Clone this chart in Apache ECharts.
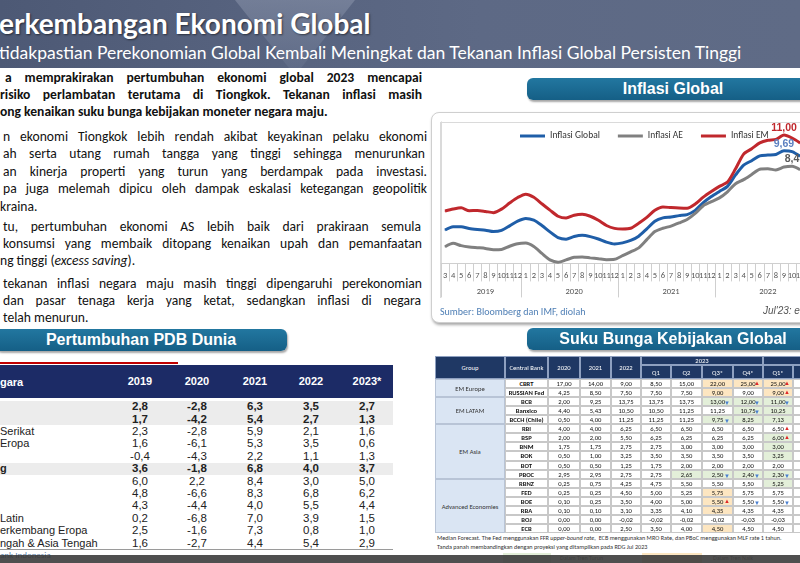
<!DOCTYPE html>
<html><head><meta charset="utf-8">
<script src="https://cdn.jsdelivr.net/npm/echarts@6/dist/echarts.min.js"></script>
<style>
html,body{margin:0;padding:0;width:800px;height:563px;overflow:hidden;background:#fff;}
.a{position:absolute;}
#hdr{left:0;top:0;width:800px;height:68px;background:linear-gradient(90deg,#4d5975 0%,#56627e 30%,#5d6985 60%,#5f6b86 100%);overflow:hidden;}
#hdrV{left:235px;top:0;width:120px;height:68px;background:linear-gradient(180deg,#8a94ab,#66728d);clip-path:polygon(0 0,100% 0,55% 100%,45% 100%);opacity:.55;}
#title{left:-1px;top:6px;font:bold 28px Lato,sans-serif;color:#fff;white-space:nowrap;text-shadow:1px 1px 2px rgba(0,0,0,.5);}
#sub{left:-1px;top:42px;font:17.5px Lato,sans-serif;color:#fff;white-space:nowrap;}
.ln{position:absolute;white-space:nowrap;font-family:Carlito,Lato,sans-serif;font-size:13.6px;color:#111;text-align:justify;text-align-last:justify;height:17px;line-height:17px;}
.ln.l{text-align:left;text-align-last:left;}
.b{font-weight:bold;}
.pill{position:absolute;height:22px;border-radius:6px;background:linear-gradient(180deg,#2277a0,#155f86);box-shadow:1px 2px 2px rgba(0,0,0,.35);color:#fff;font:bold 16px 'Liberation Sans',Arial,sans-serif;line-height:22px;text-align:center;white-space:nowrap;}
#card{left:431px;top:112px;width:400px;height:209px;border:1px solid #cfcfcf;border-radius:8px;box-shadow:1px 2px 3px rgba(0,0,0,.35);background:#fff;}
#frame{left:440px;top:122px;width:400px;height:175px;border-top:1px solid #dadada;border-left:1px solid #dadada;}
#chart{left:430px;top:110px;width:470px;height:200px;}
#src{left:440px;top:305px;font:10px Carlito,Lato,sans-serif;color:#4f7fb5;}
#jul{left:763px;top:305px;font:italic 10px 'Liberation Sans',sans-serif;color:#555;white-space:nowrap;}
.pc{position:absolute;font:11.5px 'Liberation Sans',Arial,sans-serif;color:#222;text-align:center;height:11px;line-height:11px;}
.rc{position:absolute;box-sizing:border-box;font:6.6px Carlito,Lato,sans-serif;color:#111;text-align:center;overflow:visible;white-space:nowrap;}
</style></head><body>
<div id="hdr" class="a"><div id="hdrV" class="a"></div>
<div id="title" class="a">erkembangan Ekonomi Global</div>
<div id="sub" class="a">tidakpastian Perekonomian Global Kembali Meningkat dan Tekanan Inflasi Global Persisten Tinggi</div>
</div>
<div id="txt"></div>
<div class="pill" style="left:527px;top:78px;width:292px;">Inflasi Global</div>
<div id="card" class="a"></div>
<div id="frame" class="a"></div>
<div id="chart" class="a"></div>
<div id="src" class="a">Sumber: Bloomberg dan IMF, diolah</div>
<div id="jul" class="a">Jul'23: e</div>
<div class="pill" style="left:-5px;top:329px;width:292px;">Pertumbuhan PDB Dunia</div>
<div class="pill" style="left:527px;top:328px;width:292px;">Suku Bunga Kebijakan Global</div>
<div id="pdb"></div>
<div id="rates"></div>
<div id="foot"></div>
<script>
// ---------- Inflasi Global chart data ----------
const monthLabels = ['3','4','5','6','7','8','9','10','11','12',
  '1','2','3','4','5','6','7','8','9','10','11','12',
  '1','2','3','4','5','6','7','8','9','10','11','12',
  '1','2','3','4','5','6','7','8','9','10','11','12'];
const yearLabels = ['2019','2020','2021','2022'];
const yearStartIdx = [0,10,22,34,46];
const yearLabelIdx = [5,16,28,40];
const inflasiGlobal = [3.08,3.36,3.35,3.21,3.13,3.07,2.95,3.05,3.43,3.83,4.05,3.90,3.46,2.93,2.45,2.32,2.54,2.64,2.53,2.33,2.07,1.92,2.01,2.21,2.57,3.18,3.81,4.09,4.16,4.28,4.37,4.72,5.36,5.87,6.30,6.72,7.67,8.49,8.86,9.26,9.33,9.38,9.69,9.62,9.22];
const inflasiAE = [1.69,1.97,1.78,1.67,1.61,1.55,1.44,1.46,1.73,1.94,1.99,1.70,1.13,0.59,0.40,0.59,0.81,0.83,0.76,0.69,0.61,0.64,0.94,1.26,1.59,2.28,2.95,3.23,3.41,3.67,3.96,4.46,5.11,5.44,5.76,6.27,6.94,7.28,7.71,8.15,8.18,8.09,8.33,8.40,8.11];
const inflasiEM = [4.67,4.83,4.93,4.69,4.71,4.63,4.53,4.82,5.33,5.79,6.07,5.81,5.27,4.74,4.23,4.08,4.31,4.39,4.23,3.89,3.46,3.22,3.17,3.23,3.65,4.14,4.72,5.00,4.95,4.91,4.89,5.25,5.82,6.29,6.72,7.08,8.18,9.41,9.85,10.34,10.56,10.63,11.00,10.75,10.34];
const peakLabels = [{series:0,idx:42,text:'9,69',color:'#5b7fc0'},{series:1,idx:43,text:'8,4',color:'#595959'},{series:2,idx:42,text:'11,00',color:'#c0282d'}];

// ---------- PDB table data ----------
const pdbYears = ['2019','2020','2021','2022','2023*'];
const pdbRows = ['','','Serikat','Eropa','','g','','','','Latin','erkembang Eropa','ngah & Asia Tengah'];
const pdbBold = [true,true,false,false,false,true,false,false,false,false,false,false];
const pdbVals = [
 ['2,8','-2,8','6,3','3,5','2,7'],['1,7','-4,2','5,4','2,7','1,3'],['2,3','-2,8','5,9','2,1','1,6'],
 ['1,6','-6,1','5,3','3,5','0,6'],['-0,4','-4,3','2,2','1,1','1,3'],['3,6','-1,8','6,8','4,0','3,7'],
 ['6,0','2,2','8,4','3,0','5,0'],['4,8','-6,6','8,3','6,8','6,2'],['4,3','-4,4','4,0','5,5','4,4'],
 ['0,2','-6,8','7,0','3,9','1,5'],['2,5','-1,6','7,3','0,8','1,0'],['1,6','-2,7','4,4','5,4','2,9']];

// ---------- Policy rate table data ----------
const rateGroups = [['EM Europe',2],['EM LATAM',3],['EM Asia',6],['Advanced Economies',6]];
const rateBanks = ['CBRT','RUSSIAN Fed','BCB','Banxico','BCCH (Chile)','RBI','BSP','BNM','BOK','BOT','PBOC','RBNZ','FED','BOE','RBA','BOJ','ECB'];
const rateCols = ['2020','2021','2022','Q1','Q2','Q3*','Q4*','Q1*'];
const rateVals = [
 ['17,00','14,00','9,00','8,50','15,00','22,00','25,00','25,00'],
 ['4,25','8,50','7,50','7,50','7,50','9,00','9,00','9,00'],
 ['2,00','9,25','13,75','13,75','13,75','13,00','12,00','11,00'],
 ['4,40','5,43','10,50','10,50','11,25','11,25','10,75','10,25'],
 ['0,50','4,00','11,25','11,25','11,25','9,75','8,25','7,13'],
 ['4,00','4,00','6,25','6,50','6,50','6,50','6,50','6,50'],
 ['2,00','2,00','5,50','6,25','6,25','6,25','6,25','6,00'],
 ['1,75','1,75','2,75','2,75','3,00','3,00','3,00','3,00'],
 ['0,50','1,00','3,25','3,50','3,50','3,50','3,50','3,25'],
 ['0,50','0,50','1,25','1,75','2,00','2,00','2,00','2,00'],
 ['2,95','2,95','2,75','2,75','2,65','2,50','2,40','2,30'],
 ['0,25','0,75','4,25','4,75','5,50','5,50','5,50','5,25'],
 ['0,25','0,25','4,50','5,00','5,25','5,75','5,75','5,75'],
 ['0,10','0,25','3,50','4,00','5,00','5,50','5,50','5,50'],
 ['0,10','0,10','3,10','3,35','4,10','4,35','4,35','4,35'],
 ['0,00','0,00','-0,02','-0,02','-0,02','-0,02','-0,03','-0,03'],
 ['0,00','0,00','2,50','3,50','4,00','4,50','4,50','4,50']];
// highlight codes: 'y' naik (yellow), 'g' turun (green); arrows 'u' up, 'd' down
const rateMarks = {
 '0,5':'y','0,6':'yu','0,7':'yu','1,5':'y','1,6':'','1,7':'yu',
 '2,5':'gd','2,6':'gd','2,7':'gd','3,6':'gd','3,7':'g','4,5':'gd','4,6':'g','4,7':'g',
 '5,7':'u','6,7':'gu','7,7':'g','8,7':'g','10,4':'g','10,5':'gd','10,6':'gd','10,7':'gd',
 '11,7':'g','12,5':'y','13,5':'yu','13,6':'d','13,7':'d','14,5':'y','16,5':'y'};

// ---------- left text ----------
const textLines = [
 [77,5,422,'a memprakirakan pertumbuhan ekonomi global 2023 mencapai',1,0],
 [94,0,422,'risiko perlambatan terutama di Tiongkok. Tekanan inflasi masih',1,0],
 [111,0,0,'ong kenaikan suku bunga kebijakan moneter negara maju.',1,1],
 [136,3,427,'n ekonomi Tiongkok lebih rendah akibat keyakinan pelaku ekonomi',0,0],
 [153,3,425,'ah serta utang rumah tangga yang tinggi sehingga menurunkan',0,0],
 [171,3,427,'an kinerja properti yang turun yang berdampak pada investasi.',0,0],
 [188,3,427,'pa juga melemah dipicu oleh dampak eskalasi ketegangan geopolitik',0,0],
 [206,0,0,'kraina.',0,1],
 [226,3,421,'tu, pertumbuhan ekonomi AS lebih baik dari prakiraan semula',0,0],
 [243,3,422,'konsumsi yang membaik ditopang kenaikan upah dan pemanfaatan',0,0],
 [260,0,0,'ng tinggi (<i>excess saving</i>).',0,1],
 [283,3,422,'tekanan inflasi negara maju masih tinggi dipengaruhi perekonomian',0,0],
 [300,3,421,'dan pasar tenaga kerja yang ketat, sedangkan inflasi di negara',0,0],
 [317,3,0,'telah menurun.',0,1]];
let th='';
textLines.forEach(l=>{
  th+=`<div class="ln${l[4]?' b':''}${l[5]?' l':''}" style="top:${l[0]-8.5}px;left:${l[1]}px;${l[2]?'width:'+(l[2]-l[1])+'px;':''}">${l[3]}</div>`;
});
document.getElementById('txt').innerHTML=th;

// ---------- PDB table ----------
let ph='';
ph+=`<div class="a" style="left:0;top:362px;width:178px;height:2px;background:#c00000"></div>`;
ph+=`<div class="a" style="left:0;top:365px;width:393px;height:33px;background:#1c2b66"></div>`;
ph+=`<div class="a" style="left:0;top:376px;font:bold 11px 'Liberation Sans',Arial;color:#fff">gara</div>`;
const pdbX=[140,197,255,311,367];
pdbYears.forEach((y,i)=>{ph+=`<div class="pc" style="left:${pdbX[i]-30}px;width:60px;top:376px;color:#fff;font-weight:bold;font-size:11px">${y}</div>`;});
pdbRows.forEach((r,ri)=>{
  const top=400.5+ri*12.4;
  if(pdbBold[ri]) ph+=`<div class="a" style="left:0;top:${top}px;width:393px;height:12.4px;background:#ececec"></div>`;
  const fw=pdbBold[ri]?'bold':'normal';
  ph+=`<div class="pc" style="left:0;top:${top+0.7}px;text-align:left;font-weight:${fw};font-size:11px">${r}</div>`;
  pdbVals[ri].forEach((v,ci)=>{ph+=`<div class="pc" style="left:${pdbX[ci]-30}px;width:60px;top:${top+0.7}px;font-weight:${fw}">${v}</div>`;});
});
ph+=`<div class="a" style="left:0;top:549px;width:393px;height:1px;background:#9a9a9a"></div>`;
document.getElementById('pdb').innerHTML=ph;

// ---------- Rates table ----------
const rx=[435,505,548,580,611,641,671,702,733,763,793,823];
const hdrTop=356,h1=9,h2=14,rowH=9.06;
const bodyTop=hdrTop+h1+h2;
let rh='';
const navy='#1f3864';
function cell(x0,x1,y0,h,bg,txt,extra){rh+=`<div class="rc" style="left:${x0}px;top:${y0}px;width:${x1-x0}px;height:${h}px;line-height:${h}px;background:${bg};${extra||''}">${txt}</div>`;}
cell(rx[0],rx[1],hdrTop,h1+h2,navy,'Group','color:#fff;border:0.5px solid #8ea0c0;');
cell(rx[1],rx[2],hdrTop,h1+h2,navy,'Central Bank','color:#fff;border:0.5px solid #8ea0c0;');
for(let c=0;c<3;c++) cell(rx[2+c],rx[3+c],hdrTop,h1+h2,navy,rateCols[c],'color:#fff;border:0.5px solid #8ea0c0;');
cell(rx[5],rx[9],hdrTop,h1,navy,'2023','color:#fff;border:0.5px solid #8ea0c0;');
cell(rx[9],rx[11],hdrTop,h1,navy,'','border:0.5px solid #8ea0c0;');
for(let c=3;c<8;c++) cell(rx[2+c],rx[3+c],hdrTop+h1,h2,navy,rateCols[c],'color:#fff;border:0.5px solid #8ea0c0;');
cell(rx[10],rx[11],hdrTop+h1,h2,navy,'','border:0.5px solid #8ea0c0;');
let gr=0;
rateGroups.forEach(g=>{cell(rx[0],rx[1],bodyTop+gr*rowH,g[1]*rowH,'#dae5f3',g[0],'border:0.5px solid #b8c4d6;color:#333;');gr+=g[1];});
rateBanks.forEach((b,ri)=>{
  const y=bodyTop+ri*rowH;
  cell(rx[1],rx[2],y,rowH,'#fff',b,'font-weight:bold;border:0.5px solid #c8c8c8;');
  rateVals[ri].forEach((v,ci)=>{
    const m=rateMarks[ri+','+ci]||'';
    const bg=m.includes('y')?'#fde6c1':(m.includes('g')?'#e3efd9':'#fff');
    let arrow='';
    if(m.includes('u')) arrow='<span style="position:absolute;right:2px;top:-1px;color:#e02828;font-size:6px">&#9650;</span>';
    if(m.includes('d')) arrow='<span style="position:absolute;right:2px;top:1px;color:#4a7fd0;font-size:6px">&#9660;</span>';
    cell(rx[2+ci],rx[3+ci],y,rowH,bg,v+arrow,'border:0.5px solid #c8c8c8;');
  });
  cell(rx[10],rx[11],y,rowH,'#fff','','border:0.5px solid #c8c8c8;');
});
const noteTop=bodyTop+17*rowH;
rh+=`<div class="a" style="left:437px;top:${noteTop+1}px;font:6.2px Carlito,Lato,sans-serif;color:#333;white-space:nowrap">Median Forecast. The Fed menggunakan FFR <i>upper-bound rate</i>,&nbsp; ECB menggunakan MRO Rate, dan PBoC menggunakan MLF rate 1 tahun.</div>`;
rh+=`<div class="a" style="left:437px;top:${noteTop+10}px;font:6.2px Carlito,Lato,sans-serif;color:#333;white-space:nowrap">Tanda panah membandingkan dengan proyeksi yang ditampilkan pada RDG Jul 2023</div>`;
document.getElementById('rates').innerHTML=rh;

// ---------- footer ----------
document.getElementById('foot').innerHTML=
 `<div class="a" style="left:503px;top:553px;width:48px;height:10px;background:#e3efd9"></div>`+
 `<div class="a" style="left:642px;top:553px;width:60px;height:10px;background:#fde6c1"></div>`+
 `<div class="a" style="left:0;top:550px;font:9px Carlito,Lato;color:#5b7fa8;line-height:10px">ank Indonesia</div>`+
 `<div class="a" style="left:560px;top:555px;font:6px Carlito,Lato;color:#777;line-height:7px">Dalam Tren Turun</div>`+
 `<div class="a" style="left:713px;top:555px;font:6px Carlito,Lato;color:#777;line-height:7px">Dalam Tren Naik</div>`+
 `<div class="a" style="left:0;top:555px;width:800px;height:8px;background:rgba(55,55,55,.88)"></div>`;

// ---------- ECharts line chart ----------
const chart = echarts.init(document.getElementById('chart'), null, {renderer:'canvas'});
const seriesData=[inflasiGlobal,inflasiAE,inflasiEM];
const names=['Inflasi Global','Inflasi AE','Inflasi EM'];
const colors=['#1f5ea8','#808080','#c0282d'];
const yearCat = [];
yearLabels.forEach((y,i)=>{for(let k=yearStartIdx[i];k<yearStartIdx[i+1];k++) yearCat.push(y);});
chart.setOption({
  animation:false,
  grid:{left:11,top:11.8,width:46*8.07,height:141.6},
  legend:{data:names,left:90,top:21,itemWidth:25,itemHeight:3,icon:'rect',itemGap:18,padding:0,
    textStyle:{fontFamily:'Carlito, Lato, sans-serif',fontSize:9.5,color:'#333'}},
  xAxis:[
    {type:'category',data:monthLabels,boundaryGap:true,
     axisLine:{show:true,lineStyle:{color:'#cfcfcf'}},
     axisTick:{show:true,interval:0,length:18,lineStyle:{color:'#cfcfcf'}},
     axisLabel:{interval:0,margin:8,fontSize:8.5,color:'#555',fontFamily:'Carlito, Lato, sans-serif'}},
    {type:'category',data:yearCat,boundaryGap:true,position:'bottom',
     axisLine:{show:false},
     axisTick:{show:true,length:34,interval:(i)=>yearStartIdx.includes(i),lineStyle:{color:'#cfcfcf'}},
     axisLabel:{interval:(i)=>yearLabelIdx.includes(i),margin:24,fontSize:8.5,color:'#555',fontFamily:'Carlito, Lato, sans-serif'}}
  ],
  yAxis:{type:'value',min:0.3,max:12.1,axisLabel:{show:false},splitLine:{show:false},axisTick:{show:false},
    axisLine:{show:true,lineStyle:{color:'#dadada'}}},
  series:seriesData.map((d,si)=>({
    name:names[si],type:'line',smooth:0.25,symbol:'circle',symbolSize:1,showSymbol:true,showAllSymbol:true,
    itemStyle:{color:colors[si]},lineStyle:{width:3,color:colors[si]},
    data:d.map((v,i)=>{
      const pk=peakLabels.find(p=>p.series===si&&p.idx===i);
      if(!pk) return v;
      return {value:v,label:{show:true,position:'top',distance:1,formatter:pk.text,color:pk.color,
        fontWeight:'bold',fontSize:10.5,fontFamily:'Liberation Sans, Arial, sans-serif'}};
    })
  }))
});
</script>
</body></html>
